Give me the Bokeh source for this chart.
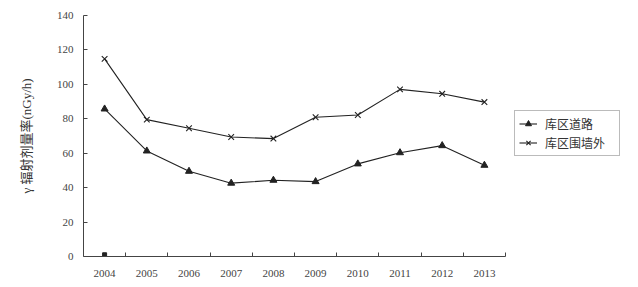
from bokeh.plotting import figure
from bokeh.models import Range1d, FixedTicker, Legend, LegendItem
from bokeh.embed import file_html
from bokeh.resources import INLINE

years = ["2004", "2005", "2006", "2007", "2008", "2009", "2010", "2011", "2012", "2013"]
road = [85.7, 61.3, 49.5, 42.6, 44.3, 43.5, 53.8, 60.3, 64.4, 53.0]
outside_wall = [114.8, 79.5, 74.5, 69.4, 68.5, 80.9, 82.2, 97.1, 94.5, 89.7]
y_ticks = [0, 20, 40, 60, 80, 100, 120, 140]
stray_year_index = [0]
stray_value = [1.0]

xs = [i + 0.5 for i in range(len(years))]
n = len(years)
SERIF = "Liberation Serif, Noto Sans CJK SC"
CJK = "Noto Sans CJK SC"

# frame is widened to the right so the legend can sit beside the plotted area;
# the x axis line is bounded to the category span
p = figure(width=630, height=279, output_backend="svg", toolbar_location=None,
           x_range=Range1d(0, n * 542 / 422), y_range=Range1d(0, 140),
           min_border_left=83, min_border_right=5, min_border_top=15, min_border_bottom=22)
p.outline_line_color = None
p.xgrid.visible = False
p.ygrid.visible = False
p.background_fill_color = "white"

ink = "#222222"
l1 = p.line(xs, road, line_color=ink, line_width=1.1)
m1 = p.scatter(xs, road, marker="triangle", size=7, fill_color=ink, line_color=ink)
l2 = p.line(xs, outside_wall, line_color=ink, line_width=1.1)
m2 = p.scatter(xs, outside_wall, marker="x", size=8, line_color=ink, line_width=1.1)
p.scatter([xs[i] for i in stray_year_index], stray_value, marker="square", size=4,
          fill_color=ink, line_color=ink)

# x axis: labels at centres, tick marks at category boundaries (minor ticks)
p.xaxis.bounds = (0, n)
p.xaxis.ticker = FixedTicker(ticks=xs, minor_ticks=[i + 1 for i in range(n)])
p.xaxis.major_label_overrides = {x: y for x, y in zip(xs, years)}
p.xaxis.major_tick_line_color = None
p.xaxis.minor_tick_in = 4
p.xaxis.minor_tick_out = 0
p.xaxis.minor_tick_line_color = "#444444"
p.xaxis.axis_line_color = "#444444"
p.xaxis.major_label_text_font = SERIF
p.xaxis.major_label_text_font_size = "11px"
p.xaxis.major_label_text_color = "#444444"
p.xaxis.major_label_standoff = 7

p.yaxis.ticker = FixedTicker(ticks=y_ticks)
p.yaxis.minor_tick_line_color = None
p.yaxis.major_tick_in = 4
p.yaxis.major_tick_out = 0
p.yaxis.major_tick_line_color = "#444444"
p.yaxis.axis_line_color = "#444444"
p.yaxis.major_label_text_font = SERIF
p.yaxis.major_label_text_font_size = "11px"
p.yaxis.major_label_text_color = "#444444"
p.yaxis.major_label_standoff = 10
p.yaxis.axis_label = "γ 辐射剂量率(nGy/h)"
p.yaxis.axis_label_text_font = SERIF
p.yaxis.axis_label_text_font_style = "normal"
p.yaxis.axis_label_text_font_size = "13px"
p.yaxis.axis_label_text_color = "#333333"
p.yaxis.axis_label_standoff = 20

legend = Legend(items=[LegendItem(label="库区道路", renderers=[l1, m1]),
                       LegendItem(label="库区围墙外", renderers=[l2, m2])],
                location=(431, 100))
legend.border_line_color = "#777777"
legend.border_line_width = 1
legend.label_text_font = CJK
legend.label_text_font_size = "12px"
legend.label_text_color = "#333333"
legend.glyph_width = 18
legend.glyph_height = 15
legend.label_height = 15
legend.label_width = 70
legend.spacing = 2
legend.padding = 4
legend.margin = 0
legend.label_standoff = 8
legend.background_fill_alpha = 1
p.add_layout(legend, "center")

open("out.html", "w").write(file_html(p, INLINE))
